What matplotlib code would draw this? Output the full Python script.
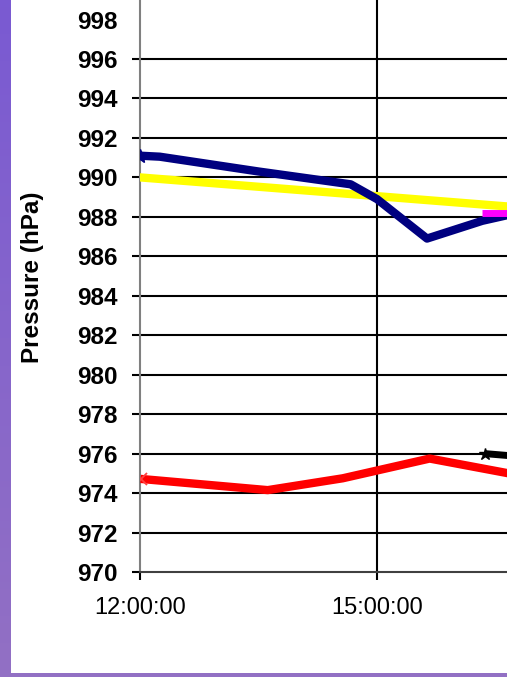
import numpy as np
import matplotlib
matplotlib.use("Agg")
import matplotlib.pyplot as plt
from matplotlib.patches import Rectangle

# --- Data (times as HH:MM, pressure in hPa) ---
navy_times = ["12:00", "12:15", "13:30", "14:40", "15:00", "15:38", "16:20", "16:40", "17:00"]
navy_hpa = [991.1, 991.05, 990.3, 989.65, 988.9, 986.9, 987.8, 988.1, 988.3]

yellow_times = ["12:00", "18:00"]
yellow_hpa = [990.0, 988.1]

magenta_times = ["16:20", "16:40", "17:00"]
magenta_hpa = [988.2, 988.2, 988.2]

red_times = ["12:00", "13:37", "14:34", "15:40", "16:40", "17:00"]
red_hpa = [974.7, 974.15, 974.75, 975.75, 975.0, 974.8]

black_times = ["16:22", "16:40", "17:00"]
black_hpa = [976.0, 975.9, 975.8]

y_ticks = list(range(970, 1000, 2))
x_ticks = [12, 15]
x_tick_labels = ["12:00:00", "15:00:00"]


def to_hours(times):
    out = []
    for t in times:
        h, m = t.split(":")
        out.append(int(h) + int(m) / 60.0)
    return np.array(out)


W, H = 507, 677
fig = plt.figure(figsize=(W / 100, H / 100), dpi=100)
fig.patch.set_facecolor("white")

# purple frame on the left and bottom
bg = fig.add_axes([0, 0, 1, 1], zorder=-1)
bg.axis("off")
grad = np.linspace(0, 1, 100)[:, None]
top_c = np.array([122, 90, 210]) / 255
bot_c = np.array([146, 112, 196]) / 255
img = top_c[None, None, :] * (1 - grad[:, :, None]) + bot_c[None, None, :] * grad[:, :, None]
bg.imshow(img, extent=(0, 11, H, 0), aspect="auto")
bg.add_patch(Rectangle((0, 672.5), W, 5, color=tuple(bot_c), lw=0))
bg.set_xlim(0, W)
bg.set_ylim(H, 0)

# --- plot area: 12:00 at x=140, 970 at y=572, 79 px/hour, 19.73 px/hPa ---
x0, y0 = 140, 572
px_hr, px_hpa = 79.0, 19.73
xmin, xmax = 12, 18.5
ymin, ymax = 970, 1000
ax = fig.add_axes([x0 / W, (H - y0) / H,
                   (xmax - xmin) * px_hr / W, (ymax - ymin) * px_hpa / H])
ax.set_xlim(xmin, xmax)
ax.set_ylim(ymin, ymax)
ax.patch.set_alpha(0)

for v in y_ticks[1:-1]:
    ax.axhline(v, color="black", lw=1.5, zorder=1)
for v in x_ticks[1:]:
    ax.axvline(v, color="black", lw=1.5, zorder=1)

lw = 6.0
ax.plot(to_hours(yellow_times), yellow_hpa, color="#FFFF00", lw=lw,
        solid_capstyle="round", zorder=3)
ax.plot(to_hours(navy_times), navy_hpa, color="#000080", lw=lw,
        solid_joinstyle="round", zorder=4)
ax.plot(to_hours(navy_times)[:1], navy_hpa[:1], color="#000080", marker="*",
        ms=10, ls="none", zorder=4)
ax.plot(to_hours(magenta_times), magenta_hpa, color="#FF00FF", lw=5,
        solid_capstyle="butt", zorder=4)
rt = to_hours(red_times)
ax.plot(rt[1:] if False else np.r_[rt[0] + 0.06, rt[1:]], red_hpa, color="#FF0000",
        lw=lw, solid_joinstyle="round", zorder=3)
ax.plot(rt[0] + 0.01, red_hpa[0], color="#FF4040", marker="x", ms=8, mew=1.3,
        ls="none", zorder=5)
ax.plot(to_hours(black_times), black_hpa, color="black", lw=5,
        solid_capstyle="butt", zorder=4)
ax.plot(to_hours(black_times)[:1], black_hpa[:1], color="black", marker="*",
        ms=9, ls="none", zorder=4)

ax.spines["top"].set_visible(False)
ax.spines["right"].set_visible(False)
ax.spines["left"].set_color("#808080")
ax.spines["left"].set_linewidth(1.5)
ax.spines["bottom"].set_color("#404040")
ax.spines["bottom"].set_linewidth(1.5)

ax.set_yticks(y_ticks)
ax.set_yticklabels([str(v) for v in y_ticks], fontsize=17.5, fontweight="bold",
                   family="Liberation Sans")
ax.tick_params(axis="y", length=6, width=1.5, pad=10, color="black")
ax.yaxis.get_major_ticks()[-1].tick1line.set_visible(False)

ax.set_xticks(x_ticks)
ax.set_xticklabels(x_tick_labels, fontsize=17, family="Liberation Sans")
ax.tick_params(axis="x", length=6, width=1.5, pad=12, color="black")

fig.text(33 / W, 1 - 277 / H, "Pressure (hPa)", rotation=90, ha="center",
         va="center", fontsize=17.5, fontweight="bold", family="Liberation Sans")

fig.savefig("out.png", dpi=100)
